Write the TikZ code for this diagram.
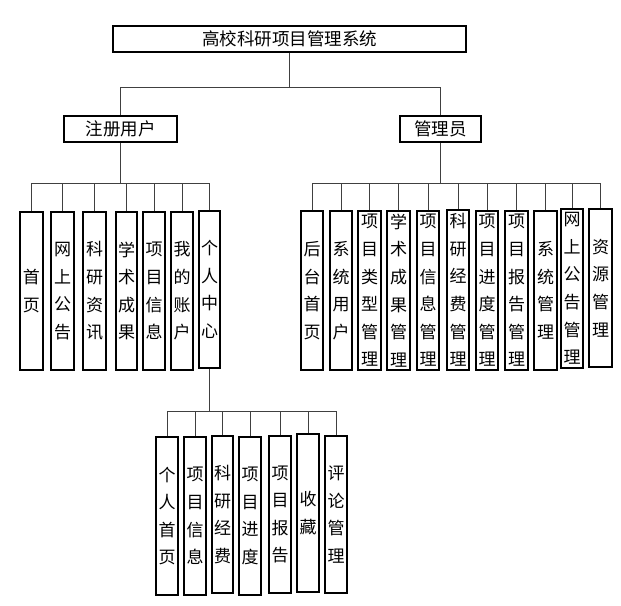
\documentclass[tikz,border=0pt]{standalone}
\usepackage{fontspec}
\setmainfont{Noto Sans CJK SC}
\usetikzlibrary{shadows}
\tikzset{
  box/.style={draw=black, line width=1.4pt, fill=white, inner sep=0pt,
    drop shadow={shadow xshift=1.2pt, shadow yshift=-1.2pt, fill=black!35, opacity=1}},
  vtext/.style={align=center, inner sep=0pt, font=\fontsize{17}{27.6}\selectfont},
  htext/.style={inner sep=0pt, font=\fontsize{17.5}{20}\selectfont},
  conn/.style={draw=black!75, line width=0.9pt}
}
\newcommand{\bx}[6]{%
  \node[box, minimum width={#3pt-#2pt}, minimum height={#5pt-#4pt}] (#1) at ({(#2+#3)/2},{(#4+#5)/2}) {};
  \node[vtext] (#1-t) at (#1) {#6};
}
\begin{document}
\begin{tikzpicture}[x=1pt,y=-1pt]
\useasboundingbox (0,0) rectangle (621,605);
% top level
\node[box, minimum width=353pt, minimum height=26pt] (top) at (289.5,39) {};
\node[htext] (top-t) at (top) {高校科研项目管理系统};
\node[box, minimum width=113pt, minimum height=26pt] (reg) at (120.5,129) {};
\node[htext] (reg-t) at (reg) {注册用户};
\node[box, minimum width=81pt, minimum height=26pt] (adm) at (440.5,129) {};
\node[htext] (adm-t) at (adm) {管理员};
\coordinate (bus0) at (0,87);
\coordinate (bus1) at (0,183);
\coordinate (bus2) at (0,411);
% left children
\bx{L1}{20}{43}{212}{370}{首\\页}
\bx{L2}{51}{74}{212}{370}{网\\上\\公\\告}
\bx{L3}{83}{106}{212}{370}{科\\研\\资\\讯}
\bx{L4}{116}{137}{212}{370}{学\\术\\成\\果}
\bx{L5}{143}{165}{212}{370}{项\\目\\信\\息}
\bx{L6}{171}{193}{212}{370}{我\\的\\账\\户}
\bx{L7}{199}{220}{211}{368}{个\\人\\中\\心}
% right children
\bx{R1}{301}{323}{211}{370}{后\\台\\首\\页}
\bx{R2}{330}{352}{211}{370}{系\\统\\用\\户}
\bx{R3}{358}{381}{211}{370}{项\\目\\类\\型\\管\\理}
\bx{R4}{387}{410}{211}{370}{学\\术\\成\\果\\管\\理}
\bx{R5}{417}{439}{211}{370}{项\\目\\信\\息\\管\\理}
\bx{R6}{447}{469}{210}{370}{科\\研\\经\\费\\管\\理}
\bx{R7}{476}{498}{211}{370}{项\\目\\进\\度\\管\\理}
\bx{R8}{505}{528}{211}{370}{项\\目\\报\\告\\管\\理}
\bx{R9}{534}{557}{211}{370}{系\\统\\管\\理}
\bx{R10}{561}{583}{209}{368}{网\\上\\公\\告\\管\\理}
\bx{R11}{589}{612}{209}{367}{资\\源\\管\\理}
% bottom children
\bx{B1}{156}{178}{437}{595}{个\\人\\首\\页}
\bx{B2}{184}{206}{437}{595}{项\\目\\信\\息}
\bx{B3}{212}{233}{436}{593}{科\\研\\经\\费}
\bx{B4}{239}{261}{437}{595}{项\\目\\进\\度}
\bx{B5}{269}{291}{436}{593}{项\\目\\报\\告}
\bx{B6}{297}{319}{434}{592}{收\\藏}
\bx{B7}{325}{347}{436}{593}{评\\论\\管\\理}
% connectors
\begin{scope}[on background layer/.try]
\end{scope}
\draw[conn] (top.south) -- (top.south |- bus0);
\draw[conn] (reg.north |- bus0) -- (adm.north |- bus0);
\draw[conn] (reg.north) -- (reg.north |- bus0);
\draw[conn] (adm.north) -- (adm.north |- bus0);
\draw[conn] (reg.south) -- (reg.south |- bus1);
\draw[conn] (adm.south) -- (adm.south |- bus1);
\draw[conn] (L1.north |- bus1) -- (L7.north |- bus1);
\foreach \n in {L1,L2,L3,L4,L5,L6,L7} \draw[conn] (\n.north) -- (\n.north |- bus1);
\draw[conn] (R1.north |- bus1) -- (R11.north |- bus1);
\foreach \n in {R1,R2,R3,R4,R5,R6,R7,R8,R9,R10,R11} \draw[conn] (\n.north) -- (\n.north |- bus1);
\draw[conn] (L7.south) -- (L7.south |- bus2);
\draw[conn] (B1.north |- bus2) -- (B7.north |- bus2);
\foreach \n in {B1,B2,B3,B4,B5,B6,B7} \draw[conn] (\n.north) -- (\n.north |- bus2);
\end{tikzpicture}
\end{document}
